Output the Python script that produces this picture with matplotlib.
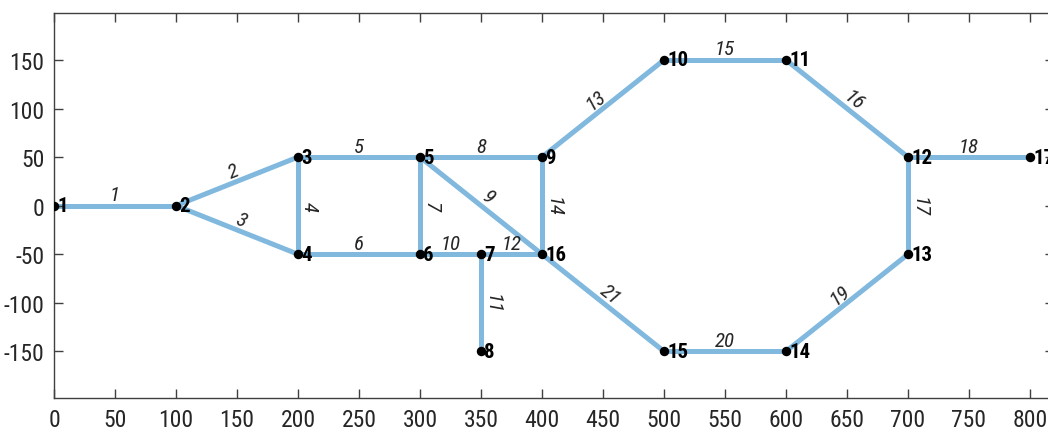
import numpy as np
import matplotlib
matplotlib.use('Agg')
import matplotlib.pyplot as plt
from matplotlib import font_manager

# node coordinates
node_x = [0, 100, 200, 200, 300, 300, 350, 350, 400, 500, 600, 700, 700, 600, 500, 400, 800]
node_y = [0, 0, 50, -50, 50, -50, -50, -150, 50, 150, 150, 50, -50, -150, -150, -50, 50]
node_names = [str(i) for i in range(1, 18)]

# edges as (source, target), 1-based, numbered in this order
edge_src = [1, 2, 2, 3, 3, 4, 5, 5, 5, 6, 7, 7, 9, 9, 10, 11, 12, 12, 13, 14, 15]
edge_dst = [2, 3, 4, 4, 5, 6, 6, 9, 16, 7, 8, 16, 10, 16, 11, 12, 13, 17, 14, 15, 16]
edge_names = [str(i) for i in range(1, 22)]

x_ticks = list(range(0, 801, 50))
y_ticks = [-150, -100, -50, 0, 50, 100, 150]

# narrow sans if there is one
names = {f.name for f in font_manager.fontManager.ttflist}
font = 'Roboto Condensed' if 'Roboto Condensed' in names else 'Liberation Sans'
plt.rcParams['font.family'] = font
plt.rcParams['axes.unicode_minus'] = False

edge_color = '#80b8de'
axis_color = '#404040'

fig = plt.figure(figsize=(10.48, 4.35), dpi=100)
xmax = 820
px_per_unit = 976 / 800
ax = fig.add_axes([54 / 1048, 1 - 399 / 435, xmax * px_per_unit / 1048, (399 - 14.3) / 435])
ax.set_xlim(0, xmax)
ax.set_ylim(-198, 198)

for s, d in zip(edge_src, edge_dst):
    ax.plot([node_x[s - 1], node_x[d - 1]], [node_y[s - 1], node_y[d - 1]],
            color=edge_color, lw=3.6, solid_capstyle='butt', zorder=1)

ax.plot(node_x, node_y, 'o', color='black', ms=5.8, zorder=3)

for x, y, name in zip(node_x, node_y, node_names):
    ax.annotate(name, (x, y), xytext=(3, 0), textcoords='offset pixels',
                ha='left', va='center', fontsize=15, fontweight='bold',
                color='black', zorder=4)

# edge labels sit at the midpoint, rotated along the edge and nudged off it
for s, d, name in zip(edge_src, edge_dst, edge_names):
    p0 = ax.transData.transform((node_x[s - 1], node_y[s - 1]))
    p1 = ax.transData.transform((node_x[d - 1], node_y[d - 1]))
    dx, dy = p1 - p0
    if dx < 0 or (dx == 0 and dy > 0):
        dx, dy = -dx, -dy
    ang = np.degrees(np.arctan2(dy, dx))
    r = np.radians(ang)
    off = 11
    mx = (node_x[s - 1] + node_x[d - 1]) / 2
    my = (node_y[s - 1] + node_y[d - 1]) / 2
    ax.annotate(name, (mx, my), xytext=(-np.sin(r) * off, np.cos(r) * off),
                textcoords='offset pixels', ha='center', va='center',
                rotation=ang, rotation_mode='anchor', fontsize=15,
                fontstyle='italic', color='#262626', zorder=2)

ax.set_xticks(x_ticks)
ax.set_yticks(y_ticks)
ax.tick_params(direction='in', length=6.5, width=1, colors=axis_color,
               labelcolor='#262626', labelsize=17, top=True, right=True, pad=7)
for sp in ax.spines.values():
    sp.set_color(axis_color)
    sp.set_linewidth(1)

fig.savefig('out.png', dpi=100)
